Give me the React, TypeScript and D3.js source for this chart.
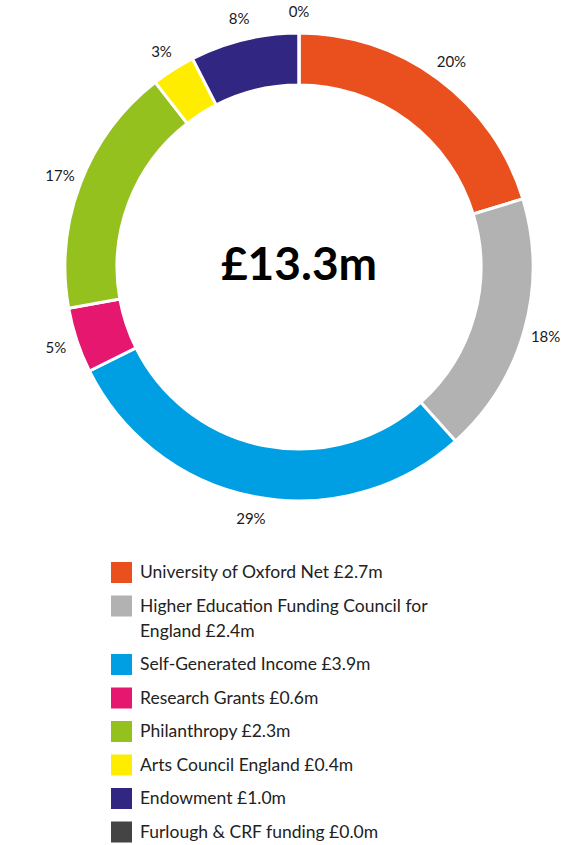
// Donut chart of income sources with a centred total and a legend below
import React, { useEffect, useRef } from 'react';
import * as d3 from 'd3';

const sources = [
  'University of Oxford Net',
  'Higher Education Funding Council for England',
  'Self-Generated Income',
  'Research Grants',
  'Philanthropy',
  'Arts Council England',
  'Endowment',
  'Furlough & CRF funding',
];
const amounts = [2.7, 2.4, 3.9, 0.6, 2.3, 0.4, 1.0, 0.0];
const percentLabels = ['20%', '18%', '29%', '5%', '17%', '3%', '8%', '0%'];
const colours = ['#E9501E', '#B2B2B2', '#009FE3', '#E6176F', '#95C11F', '#FFED00', '#312783', '#444444'];
const totalLabel = '£13.3m';

const App = () => {
  const svgRef = useRef<SVGSVGElement>(null);

  useEffect(() => {
    const width = 586;
    const height = 845;
    const cx = 299;
    const cy = 267;
    const outerR = 234;
    const innerR = 182;
    const labelR = 256;
    const font = 'Lato, "Open Sans", sans-serif';

    const svg = d3.select(svgRef.current)
      .attr('width', width)
      .attr('height', height)
      .attr('viewBox', `0 0 ${width} ${height}`);
    svg.selectAll('*').remove();

    const data = sources.map((name, i) => ({ name, value: amounts[i], colour: colours[i], pct: percentLabels[i] }));

    const pie = d3.pie<any>().sort(null).value(d => d.value);
    const arc = d3.arc<any>().innerRadius(innerR).outerRadius(outerR);
    const labelArc = d3.arc<any>().innerRadius(labelR).outerRadius(labelR);

    const g = svg.append('g').attr('transform', `translate(${cx},${cy})`);
    const arcs = pie(data);

    g.selectAll('path')
      .data(arcs)
      .enter()
      .append('path')
      .attr('d', arc)
      .attr('fill', d => d.data.colour)
      .attr('stroke', '#fff')
      .attr('stroke-width', 3)
      .attr('stroke-linejoin', 'miter');

    g.selectAll('text.pct')
      .data(arcs)
      .enter()
      .append('text')
      .attr('class', 'pct')
      .attr('transform', d => `translate(${labelArc.centroid(d)})`)
      .attr('text-anchor', 'middle')
      .attr('dominant-baseline', 'central')
      .attr('font-family', font)
      .attr('font-size', 15)
      .attr('fill', '#1a1a1a')
      .text(d => d.data.pct);

    g.append('text')
      .attr('x', 0)
      .attr('y', 13)
      .attr('text-anchor', 'middle')
      .attr('font-family', font)
      .attr('font-weight', 700)
      .attr('font-size', 46)
      .attr('fill', '#000')
      .text(totalLabel);

    // legend
    const legendX = 111;
    const legendTop = 562;
    const swatch = 21;
    const lineH = 25;
    const rowGap = 33.5;
    const maxTextW = 330;

    let y = legendTop;
    data.forEach(d => {
      const row = svg.append('g').attr('transform', `translate(${legendX},${y})`);
      row.append('rect')
        .attr('width', swatch)
        .attr('height', swatch)
        .attr('fill', d.colour);

      const text = row.append('text')
        .attr('x', swatch + 8)
        .attr('font-family', font)
        .attr('font-size', 17.5)
        .attr('fill', '#222');

      const words = `${d.name} £${d.value.toFixed(1)}m`.split(' ');
      let line: string[] = [];
      let lineNo = 0;
      let tspan = text.append('tspan').attr('x', swatch + 8).attr('y', 16);
      words.forEach(w => {
        line.push(w);
        tspan.text(line.join(' '));
        if ((tspan.node() as SVGTSpanElement).getComputedTextLength() > maxTextW && line.length > 1) {
          line.pop();
          tspan.text(line.join(' '));
          line = [w];
          lineNo += 1;
          tspan = text.append('tspan').attr('x', swatch + 8).attr('y', 16 + lineNo * lineH).text(w);
        }
      });
      y += rowGap + lineNo * lineH;
    });
  }, []);

  return (
    <div style={{ position: 'absolute', left: 0, top: 0 }}>
      <svg ref={svgRef}></svg>
    </div>
  );
};

export default App;
